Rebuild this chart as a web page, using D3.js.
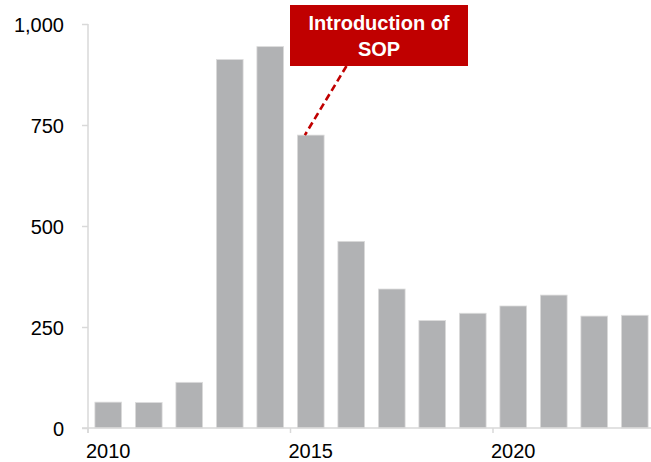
<!DOCTYPE html>
<html>
<head>
<meta charset="utf-8">
<script src="https://cdn.jsdelivr.net/npm/d3@7"></script>
<style>
  html, body { margin: 0; padding: 0; background: #fff; }
  svg { display: block; font-family: "Liberation Sans", Arial, sans-serif; }
</style>
</head>
<body>
<svg id="chart" width="651" height="462"></svg>
<script>
// Annual counts, 2010–2023
const years = [2010, 2011, 2012, 2013, 2014, 2015, 2016, 2017, 2018, 2019, 2020, 2021, 2022, 2023];
const counts = [64, 63, 113, 912, 944, 725, 462, 344, 266, 284, 302, 329, 277, 279];
const yTicks = [0, 250, 500, 750, 1000];
const xTickYears = [2010, 2015, 2020];
const noteLines = ["Introduction of", "SOP"];
const noteYear = 2015;

const svg = d3.select("#chart");
const plotLeft = 88, plotBottom = 428, plotTop = 24;
const step = 40.5;

const x = d3.scaleBand()
  .domain(years)
  .range([plotLeft, plotLeft + step * years.length])
  .paddingInner(0.34)
  .paddingOuter(0.17);

const y = d3.scaleLinear().domain([0, 1000]).range([plotBottom, plotTop]);

const axisColor = "#d9d9d9";
const labelSize = "20px";

// bars
svg.append("g")
  .selectAll("rect")
  .data(years)
  .join("rect")
  .attr("x", d => x(d))
  .attr("y", (d, i) => y(counts[i]))
  .attr("width", x.bandwidth())
  .attr("height", (d, i) => y(0) - y(counts[i]))
  .attr("fill", "#b1b2b4")
  .attr("stroke", "#dcdcdc")
  .attr("stroke-width", 0.8);

// y axis
const yAxis = svg.append("g")
  .attr("transform", `translate(${plotLeft},0)`)
  .call(d3.axisLeft(y).tickValues(yTicks).tickFormat(d3.format(",")).tickSize(6).tickSizeOuter(0).tickPadding(18));
yAxis.select(".domain").attr("stroke", axisColor).attr("stroke-width", 1.5)
  .attr("d", `M0,${plotTop}V${plotBottom + 5}`);
yAxis.selectAll(".tick line").attr("stroke", axisColor).attr("stroke-width", 1.5);
yAxis.selectAll(".tick text")
  .attr("fill", "#000")
  .style("font-size", labelSize)
  .style("font-family", "'Liberation Sans', Arial, sans-serif")
  .attr("dy", "0.35em");

// x axis
const xg = svg.append("g");
xg.append("line")
  .attr("x1", plotLeft - 6).attr("x2", x.range()[1])
  .attr("y1", plotBottom).attr("y2", plotBottom)
  .attr("stroke", axisColor).attr("stroke-width", 1.5);
const edge = d => x(d) - x.step() * x.paddingInner() / 2;
xg.selectAll(".xtick")
  .data(xTickYears)
  .join("line")
  .attr("class", "xtick")
  .attr("x1", d => edge(d)).attr("x2", d => edge(d))
  .attr("y1", plotBottom).attr("y2", plotBottom + 5)
  .attr("stroke", axisColor).attr("stroke-width", 1.5);
xg.selectAll(".xlabel")
  .data(xTickYears)
  .join("text")
  .attr("class", "xlabel")
  .attr("x", d => x(d) + x.bandwidth() / 2)
  .attr("y", 457.5)
  .attr("text-anchor", "middle")
  .attr("fill", "#000")
  .style("font-size", labelSize)
  .text(d => d);

// annotation: callout box with dashed leader to the bar
const red = "#c00000";
const note = svg.append("g");
const noteIdx = years.indexOf(noteYear);
note.append("line")
  .attr("x1", 346.5).attr("y1", 66)
  .attr("x2", x(noteYear) + x.bandwidth() * 0.28)
  .attr("y2", y(counts[noteIdx]))
  .attr("stroke", red)
  .attr("stroke-width", 2.6)
  .attr("stroke-dasharray", "7,4");
note.append("rect")
  .attr("x", 290).attr("y", 5)
  .attr("width", 178).attr("height", 61)
  .attr("fill", red);
note.selectAll("text")
  .data(noteLines)
  .join("text")
  .attr("x", 379)
  .attr("y", (d, i) => 30 + i * 26)
  .attr("text-anchor", "middle")
  .attr("fill", "#fff")
  .style("font-size", "20px")
  .style("font-weight", "bold")
  .text(d => d);
</script>
</body>
</html>
